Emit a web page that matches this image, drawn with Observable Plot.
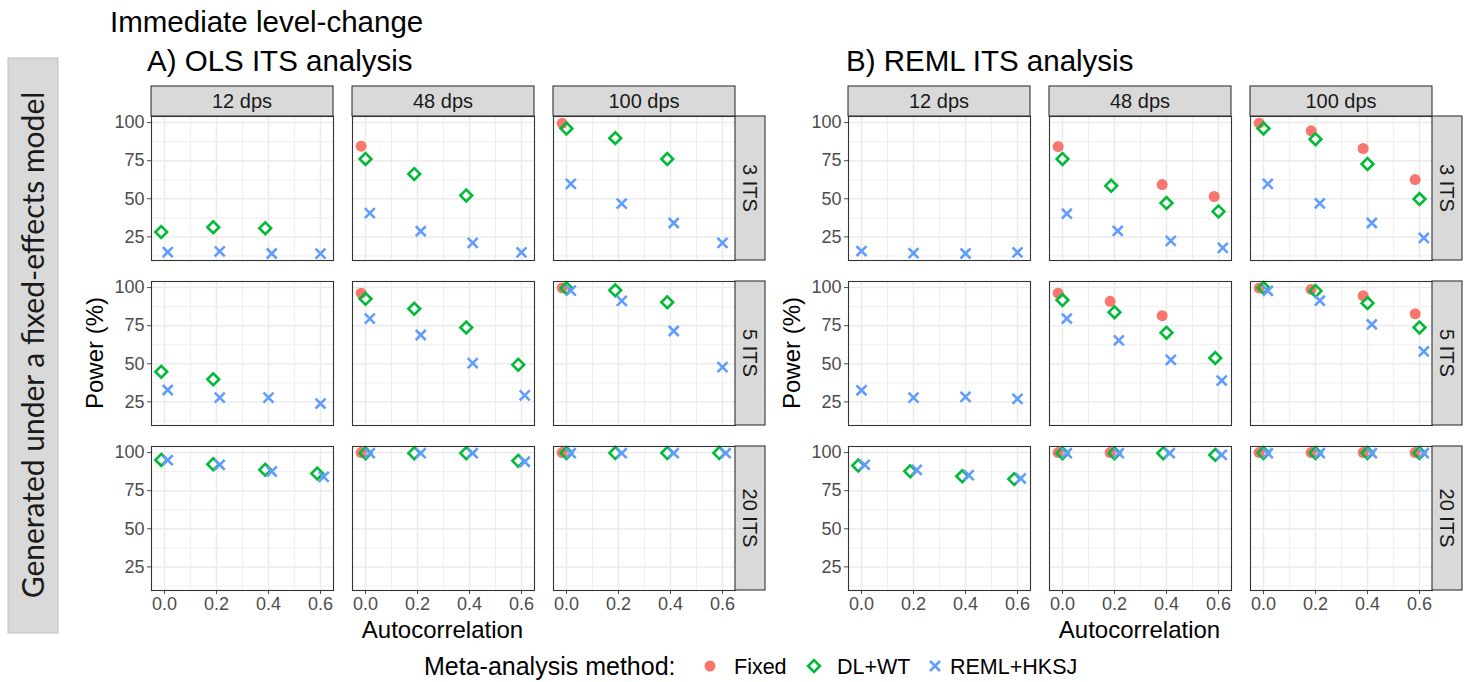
<!DOCTYPE html>
<html><head><meta charset="utf-8">
<script src="https://cdn.jsdelivr.net/npm/d3@7"></script>
<script src="https://cdn.jsdelivr.net/npm/@observablehq/plot@0.6"></script>
<style>
html,body{margin:0;padding:0;background:#fff;}
#root{position:relative;width:1469px;height:682px;overflow:hidden;font-family:"Liberation Sans",Arial,sans-serif;}
#root > svg{position:absolute;top:0;}
</style></head><body><div id="root"></div>
<script>
// ---------- data ----------
const dpsLevels = ["12 dps", "48 dps", "100 dps"];
const itsLevels = ["3 ITS", "5 ITS", "20 ITS"];
const rhoValues = [0, 0.2, 0.4, 0.6];
const methods = ["Fixed", "DL+WT", "REML+HKSJ"];
const xTicks = [0, 0.2, 0.4, 0.6];
const yTicks = [25, 50, 75, 100];

// power (%) as [ITS row][dps column][autocorrelation]; null = not shown
const olsFixed = [
  [[null,null,null,null],[84.5,null,null,null],[99.5,null,null,null]],
  [[null,null,null,null],[96.3,null,null,null],[99.8,null,null,null]],
  [[null,null,null,null],[100,null,null,null],[100,null,null,null]]
];
const olsDL = [
  [[28.2,31.3,30.7,null],[76.1,66.3,52.2,null],[96.1,89.8,76.1,null]],
  [[44.8,39.8,null,null],[92.6,86.1,73.8,49.4],[99.6,98.2,90.4,null]],
  [[95.2,92.4,88.7,86.3],[99.6,99.6,99.6,94.6],[99.7,99.7,99.7,99.7]]
];
const olsREML = [
  [[15.0,15.5,14.1,14.0],[40.6,28.7,21.1,14.8],[59.8,46.8,34.1,21.1]],
  [[32.8,27.8,27.8,23.9],[79.6,68.9,50.4,29.3],[98.0,91.3,71.5,47.8]],
  [[95.0,92.0,87.6,84.1],[99.6,99.6,99.6,94.0],[99.6,99.6,99.6,99.6]]
];
const remlFixed = [
  [[null,null,null,null],[84.3,null,59.3,51.5],[99.6,94.6,83.0,62.6]],
  [[null,null,null,null],[96.3,91.0,81.6,null],[99.7,98.8,94.6,82.8]],
  [[null,null,null,null],[100,100,null,null],[100,100,100,100]]
];
const remlDL = [
  [[null,null,null,null],[76.1,58.5,47.2,41.7],[96.1,89.1,72.8,49.8]],
  [[null,null,null,null],[91.8,83.8,70.4,53.8],[99.8,97.8,89.8,73.8]],
  [[91.5,87.8,84.5,82.6],[99.6,99.6,99.6,98.5],[99.7,99.7,99.7,99.7]]
];
const remlREML = [
  [[15.7,14.3,14.1,14.8],[40.2,28.9,22.4,17.8],[59.8,47.0,34.1,24.3]],
  [[32.6,27.8,28.3,27.0],[79.7,65.4,52.6,39.0],[97.9,91.4,75.8,58.1]],
  [[92.0,88.7,85.2,83.0],[99.6,99.6,99.6,98.5],[99.6,99.6,99.6,99.6]]
];

// ---------- styling ----------
const colors = {"Fixed": "#F8766D", "DL+WT": "#00BA38", "REML+HKSJ": "#619CFF"};
const FONT = '"Liberation Sans", Arial, sans-serif';
const dodgeWidth = 0.05;
const sizes = {circle: 5.5, diamond: 5.3, times: 4.6, sw: 2.6};

function buildRows(fixedArr, dlArr, remlArr) {
  const out = [];
  itsLevels.forEach((its, i) => dpsLevels.forEach((dps, j) => rhoValues.forEach((rho, k) => {
    const vals = [fixedArr[i][j][k], dlArr[i][j][k], remlArr[i][j][k]];
    const present = methods.filter((m, q) => vals[q] != null);
    methods.forEach((m, q) => {
      if (vals[q] == null) return;
      const n = present.length, rank = present.indexOf(m);
      out.push({its, dps, rho, method: m, power: vals[q], xd: rho + (rank - (n - 1) / 2) * dodgeWidth / n});
    });
  })));
  return out;
}

function panel(rows, left) {
  const W = 770, H = 682;
  const plot = Plot.plot({
    width: W, height: H,
    marginLeft: 150, marginRight: 35, marginTop: 115, marginBottom: 90,
    style: {fontSize: "18px", fontFamily: FONT, color: "#4d4d4d", background: "transparent", overflow: "visible"},
    fx: {domain: dpsLevels, paddingInner: 0.0968, paddingOuter: 0, axis: null, label: null},
    fy: {domain: itsLevels, paddingInner: 0.1265, paddingOuter: 0, axis: null, label: null},
    x: {domain: [-0.05, 0.65], ticks: xTicks, tickFormat: d3.format(".1f"), tickSize: 4, tickPadding: 3, label: null},
    y: {domain: [9.5, 104], ticks: yTicks, tickSize: 4, tickPadding: 3, label: null},
    marks: [
      Plot.ruleY([12.5, 37.5, 62.5, 87.5], {stroke: "#ebebeb", strokeWidth: 0.8}),
      Plot.ruleX([0.1, 0.3, 0.5], {stroke: "#ebebeb", strokeWidth: 0.8}),
      Plot.ruleY(yTicks, {stroke: "#ebebeb", strokeWidth: 1.5}),
      Plot.ruleX(xTicks, {stroke: "#ebebeb", strokeWidth: 1.5}),
      Plot.dot(rows.filter(d => d.method === "Fixed"), {x: "xd", y: "power", fx: "dps", fy: "its", symbol: "circle", fill: colors["Fixed"], stroke: "none", r: sizes.circle}),
      Plot.dot(rows.filter(d => d.method === "DL+WT"), {x: "xd", y: "power", fx: "dps", fy: "its", symbol: "diamond2", fill: "none", stroke: colors["DL+WT"], strokeWidth: sizes.sw, r: sizes.diamond}),
      Plot.dot(rows.filter(d => d.method === "REML+HKSJ"), {x: "xd", y: "power", fx: "dps", fy: "its", symbol: "times", stroke: colors["REML+HKSJ"], strokeWidth: sizes.sw, r: sizes.times}),
      Plot.frame({stroke: "#333333", strokeWidth: 1.1})
    ]
  });
  plot.style.left = left + "px";
  // facet strips (ggplot style), placed from Plot's own facet scales
  const fxS = plot.scale("fx"), fyS = plot.scale("fy");
  const bx = d3.scaleBand(fxS.domain, fxS.range).paddingInner(fxS.paddingInner ?? 0.0968).paddingOuter(fxS.paddingOuter ?? 0).align(fxS.align ?? 0.5);
  const by = d3.scaleBand(fyS.domain, fyS.range).paddingInner(fyS.paddingInner ?? 0.1265).paddingOuter(fyS.paddingOuter ?? 0).align(fyS.align ?? 0.5);
  if (fxS.round) bx.round(true);
  if (fyS.round) by.round(true);
  const svg = d3.select(plot);
  const g = svg.append("g").attr("class", "strips");
  const stripH = 30, top = by(itsLevels[0]);
  dpsLevels.forEach(d => {
    g.append("rect").attr("x", bx(d)).attr("y", top - stripH).attr("width", bx.bandwidth()).attr("height", stripH)
      .attr("fill", "#d9d9d9").attr("stroke", "#333333").attr("stroke-width", 1.1);
    g.append("text").attr("x", bx(d) + bx.bandwidth() / 2).attr("y", top - stripH / 2).attr("dy", "0.36em")
      .attr("text-anchor", "middle").attr("fill", "#1a1a1a").style("font-size", "20px").text(d);
  });
  const right = bx(dpsLevels[2]) + bx.bandwidth();
  itsLevels.forEach(t => {
    g.append("rect").attr("x", right).attr("y", by(t)).attr("width", stripH).attr("height", by.bandwidth())
      .attr("fill", "#d9d9d9").attr("stroke", "#333333").attr("stroke-width", 1.1);
    const cx = right + stripH / 2, cy = by(t) + by.bandwidth() / 2;
    g.append("text").attr("transform", `translate(${cx},${cy}) rotate(90)`).attr("dy", "0.36em")
      .attr("text-anchor", "middle").attr("fill", "#1a1a1a").style("font-size", "20px").text(t);
  });
  return plot;
}

const root = document.getElementById("root");
root.appendChild(panel(buildRows(olsFixed, olsDL, olsREML), 0));
root.appendChild(panel(buildRows(remlFixed, remlDL, remlREML), 697));

// ---------- titles, labels, legend ----------
const ov = d3.select(root).append("svg").attr("width", 1469).attr("height", 682)
  .style("left", "0px").style("pointer-events", "none").style("font-family", FONT);

// left grey box
ov.append("rect").attr("x", 8).attr("y", 58).attr("width", 50).attr("height", 575)
  .attr("fill", "#d9d9d9").attr("stroke", "#bfbfbf").attr("stroke-width", 1);
ov.append("text").attr("transform", "translate(33,345) rotate(-90)").attr("dy", "0.35em")
  .attr("text-anchor", "middle").attr("fill", "#1a1a1a").style("font-family", "Lato, 'Open Sans', sans-serif")
  .style("font-size", "30px").text("Generated under a fixed-effects model");

ov.append("text").attr("x", 110).attr("y", 32).style("font-size", "29.5px").attr("fill", "#000").text("Immediate level-change");
ov.append("text").attr("x", 147).attr("y", 71).style("font-size", "29.5px").attr("fill", "#000").text("A) OLS ITS analysis");
ov.append("text").attr("x", 846).attr("y", 71).style("font-size", "29.5px").attr("fill", "#000").text("B) REML ITS analysis");

[95, 792].forEach(x => {
  ov.append("text").attr("transform", `translate(${x},353) rotate(-90)`).attr("dy", "0.35em")
    .attr("text-anchor", "middle").attr("fill", "#000").style("font-size", "24px").text("Power (%)");
});
[442.5, 1139.5].forEach(x => {
  ov.append("text").attr("x", x).attr("y", 638).attr("text-anchor", "middle").attr("fill", "#000")
    .style("font-size", "24px").text("Autocorrelation");
});

// legend
const ly = 666;
ov.append("text").attr("x", 424).attr("y", ly).attr("dy", "0.35em").attr("fill", "#000").style("font-size", "25px").text("Meta-analysis method:");
const legendItems = [
  {m: "Fixed", sx: 710, tx: 734, sym: d3.symbolCircle, r: sizes.circle, filled: true},
  {m: "DL+WT", sx: 814, tx: 837, sym: d3.symbolDiamond2, r: sizes.diamond, filled: false},
  {m: "REML+HKSJ", sx: 935, tx: 950, sym: d3.symbolTimes, r: sizes.times, filled: false}
];
legendItems.forEach(it => {
  ov.append("path").attr("transform", `translate(${it.sx},${ly})`)
    .attr("d", d3.symbol(it.sym, Math.PI * it.r * it.r)())
    .attr("fill", it.filled ? colors[it.m] : "none")
    .attr("stroke", it.filled ? "none" : colors[it.m]).attr("stroke-width", sizes.sw);
  ov.append("text").attr("x", it.tx).attr("y", ly).attr("dy", "0.35em").attr("fill", "#000").style("font-size", "21.5px").text(it.m);
});
</script></body></html>
